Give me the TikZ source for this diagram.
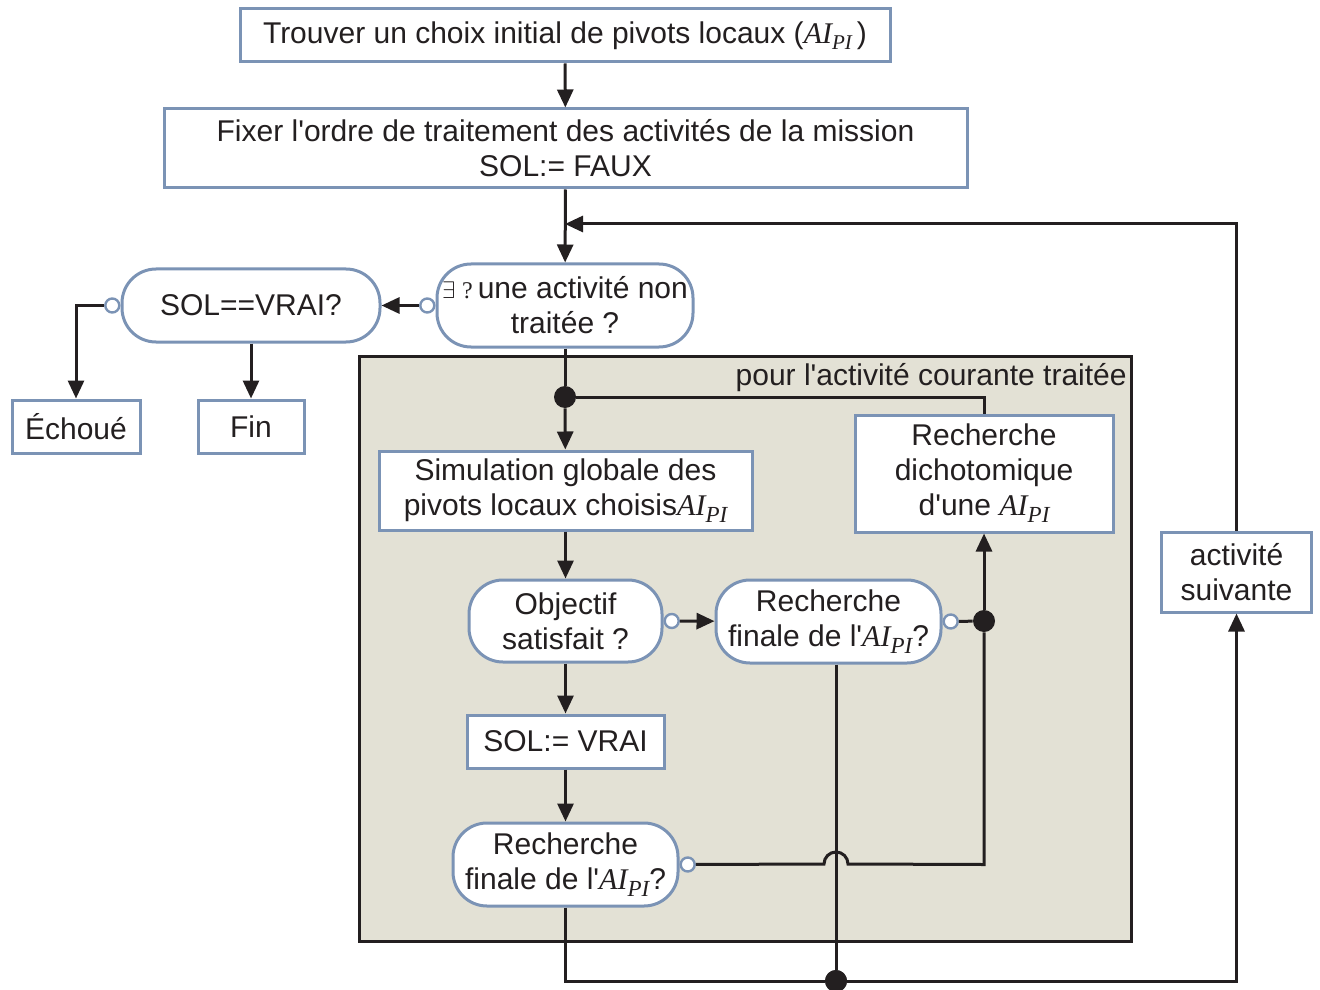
\documentclass[tikz,border=0pt]{standalone}
\usepackage{fontspec}
\setmainfont{Liberation Sans}[Ligatures=TeXOff]
\newfontfamily\tms{Liberation Serif}
\usetikzlibrary{arrows.meta,calc}
\definecolor{bord}{HTML}{7B93B5}
\definecolor{ink}{HTML}{231F20}
\definecolor{panel}{HTML}{E3E1D5}
\newcommand{\aipi}{{\tms\itshape AI\raisebox{-0.5ex}{\fontsize{11.5}{11.5}\selectfont PI}}}
\tikzset{
  every node/.style={font=\fontsize{15}{17.5}\selectfont, text=ink},
  box/.style={draw=bord, line width=1.5pt, fill=white, align=center, inner sep=0pt},
  pill/.style={box, rounded corners=17pt},
  ln/.style={draw=ink, line width=1.5pt},
  arr/.style={ln, -{Triangle[length=9pt,width=8pt]}},
  oc/.style={circle, draw=bord, line width=1.2pt, fill=white, minimum size=7pt, inner sep=0pt},
  jd/.style={circle, fill=ink, minimum size=11pt, inner sep=0pt},
}
\begin{document}
\begin{tikzpicture}[x=0.5pt,y=-0.5pt]
\useasboundingbox (0,0) rectangle (1320,989);
% panel
\node[draw=ink, line width=1.5pt, fill=panel, minimum width=386pt, minimum height=292.5pt, inner sep=0pt] (panel) at (745,648.5) {};
\node[anchor=north east, inner sep=0pt] (plabel) at (1127,363) {pour l'activité courante traitée};

% nodes
\node[box, minimum width=325pt, minimum height=26.5pt] (init) at (565,35.5) {Trouver un choix initial de pivots locaux ({\tms\itshape AI\raisebox{-0.45ex}{\fontsize{10.5}{10.5}\selectfont PI}}\,)};
\node[box, minimum width=401.5pt, minimum height=39.5pt] (ordre) at (565.5,148.5) {Fixer l'ordre de traitement des activités de la mission\\SOL:= FAUX};
\node[pill, minimum width=128pt, minimum height=41.5pt] (ex) at (565,305.5) {{\fontsize{12}{12}\selectfont$\exists$ {\tms ?}}\,une activité non\\traitée ?};
\node[pill, minimum width=129pt, minimum height=36.5pt] (sol) at (251,305.5) {SOL==VRAI?};
\node[box, minimum width=64pt, minimum height=26.5pt] (echoue) at (76,426.5) {Échoué};
\node[box, minimum width=53pt, minimum height=26.5pt] (fin) at (251,426.5) {Fin};
\node[box, minimum width=129pt, minimum height=58.5pt] (dicho) at (984,473.5) {Recherche\\dichotomique\\d'une \aipi};
\node[box, minimum width=186.5pt, minimum height=39.5pt] (simul) at (565.5,490.5) {Simulation globale des\\pivots locaux choisis\aipi};
\node[pill, minimum width=96.5pt, minimum height=41pt] (obj) at (565.5,621) {Objectif\\satisfait ?};
\node[pill, minimum width=112.5pt, minimum height=41.5pt] (rf1) at (828.5,621.5) {Recherche\\finale de l'\aipi?};
\node[box, minimum width=98.5pt, minimum height=26.5pt] (solv) at (565.5,741.5) {SOL:= VRAI};
\node[pill, minimum width=112.5pt, minimum height=41.5pt] (rf2) at (565.5,864.5) {Recherche\\finale de l'\aipi?};
\node[box, minimum width=75pt, minimum height=40pt] (act) at (1236.5,572) {activité\\suivante};

% junction dots and coordinates
\node[jd] (d1) at (565,397) {};
\node[jd] (d2) at (984,621) {};
\node[jd] (d3) at (836,981) {};
\coordinate (loopin) at (565,224);

% connectors
\draw[arr] (init) -- (ordre);
\draw[arr] (ordre) -- (ex);
\draw[arr] (act.north) |- (loopin);
\draw[ln] (ex) -- (d1);
\draw[arr] (d1) -- (simul);
\draw[ln] (d1) -| (dicho.north);
\draw[arr] (simul) -- (obj);
\draw[arr] (obj) -- (solv);
\draw[arr] (solv) -- (rf2);
\draw[arr] (d2) -- (dicho.south -| d2);
\draw[arr] (sol) -- (fin);

% open circles
\node[oc, anchor=east] (c1) at (ex.west) {};
\node[oc, anchor=east] (c2) at (sol.west) {};
\node[oc, anchor=west] (c3) at (obj.east) {};
\node[oc, anchor=west] (c4) at (rf1.east) {};
\node[oc, anchor=west] (c5) at (rf2.east) {};

\draw[arr] (c1) -- (sol);
\draw[arr] (c2) -| (echoue.north);
\draw[arr] (c3) -- (rf1);
\draw[ln] (c4) -- (d2);
\draw[ln] (d3 |- rf1.south) -- (d3);
\draw[ln] (c5) -- (824,864) arc[start angle=180,end angle=0,radius=6pt] -- (d2 |- c5) -- (d2);
\draw[arr] (rf2.south) |- (d3) -- (act.south |- d3) -- (act.south);
\node[jd] at (d3) {};
\end{tikzpicture}
\end{document}
